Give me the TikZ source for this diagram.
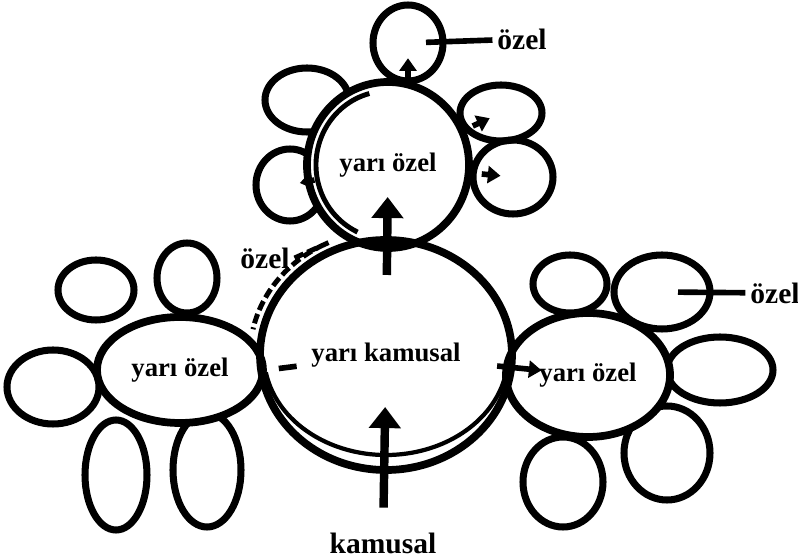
\documentclass[tikz,border=0pt]{standalone}
\usepackage{fontspec}
\setmainfont{Liberation Serif}
\usetikzlibrary{arrows.meta,positioning,shapes.geometric,calc}

\begin{document}
\begin{tikzpicture}[
  x=0.025cm, y=0.025cm,
  blob/.style={ellipse, draw, fill=white, line width=5.5pt, inner sep=0pt,
               font=\fontsize{19}{22}\selectfont\bfseries},
  petal/.style={ellipse, draw, line width=5pt, inner sep=0pt},
  layer_label/.style={font=\fontsize{21}{24}\selectfont\bfseries},
  big_arrow/.style={-{Triangle[length=15pt,width=22pt]}, line width=6pt},
  arrow/.style={-{Triangle[length=9pt,width=12pt]}, line width=4pt},
  tick/.style={line width=4pt},
  rough/.style={line width=3.5pt, dash pattern=on 7pt off 3pt}
]
\def\pxu{0.025cm}
\useasboundingbox (0,0) rectangle (798,560);

% Petals round the top node
\foreach \n/\x/\y/\w/\h in {0/408/517/70/76, 1/307/460/84/64, 2/290/375/68/72,
                            3/501/447/82/56, 4/513/383/80/74}{
  \node[petal, minimum width=\w*\pxu, minimum height=\h*\pxu] (PT\n) at (\x,\y) {};
}

% Petals round the left node
\foreach \n/\x/\y/\w/\h in {1/96/270/76/60, 2/187/282/60/70, 3/53/173/92/74,
                            4/116/85/62/110, 5/207/90/68/114}{
  \node[petal, minimum width=\w*\pxu, minimum height=\h*\pxu] (PL\n) at (\x,\y) {};
}

% Petals round the right node
\foreach \n/\x/\y/\w/\h in {1/570/276/74/58, 2/662/268/96/74, 3/720/190/106/66,
                            4/667/107/86/94, 5/563/78/80/90}{
  \node[petal, minimum width=\w*\pxu, minimum height=\h*\pxu] (PR\n) at (\x,\y) {};
}

% Semi-private nodes
\node[blob, minimum width=162*\pxu, minimum height=166*\pxu] (ozT) at (388,395) {yarı özel};
\node[blob, minimum width=166*\pxu, minimum height=106*\pxu] (ozL) at (180,190) {yarı özel};
\node[blob, minimum width=164*\pxu, minimum height=124*\pxu] (ozR) at (588,185) {yarı özel};

% Semi-public node (drawn over the others)
\node[blob, fill=none, minimum width=252*\pxu, minimum height=230*\pxu] (kamu) at (386,205) {yarı kamusal};
\draw[line width=3pt] ($(kamu.center)+(190:122 and 100)$)
  arc[start angle=190, end angle=350, x radius=122, y radius=100];
\draw[line width=3.5pt] ($(ozT.center)+(105:72 and 74)$)
  arc[start angle=105, end angle=245, x radius=72, y radius=74];

% Labels
\node[layer_label] (kamusal) at (383,17) {kamusal};
\node[layer_label] (ozelT) at (522,521) {özel};
\node[layer_label] (ozelR) at (775,267) {özel};
\node[layer_label] (ozelL) at (265,302) {özel};

% Main arrows
\draw[big_arrow, shorten <=0.5cm, shorten >=1.3cm] (kamusal) -- (kamu.center);
\draw[big_arrow, shorten <=2cm, shorten >=0.8cm] (kamu.center) -- (ozT.center);
\draw[arrow, shorten >=0.38cm] (PT0.center |- ozT.north) -- (PT0.center);
\draw[arrow] ($(kamu.center)!0.55!(ozR.center)$) -- ($(kamu.center)!0.77!(ozR.center)$);
\draw[tick] ($(ozL.east)!0.1!(kamu.center)$) -- ($(ozL.east)!0.25!(kamu.center)$);

% Arrows into the side petals
\foreach \p in {PT2,PT3,PT4}{
  \draw[arrow] ($(ozT.center)!0.75!(\p.center)$) -- ($(ozT.center)!0.9!(\p.center)$);
}

% Label lines
\draw[tick, shorten >=0.45cm] (ozelT) -- (PT0.center);
\draw[tick, shorten >=0.4cm] (ozelR) -- (PR2.center);
\coordinate (kArc) at ($(kamu.center)+(115:136 and 124)$);
\draw[rough] (ozelL.east) -- (kArc)
  arc[start angle=115, end angle=168, x radius=136, y radius=124];

\end{tikzpicture}
\end{document}
